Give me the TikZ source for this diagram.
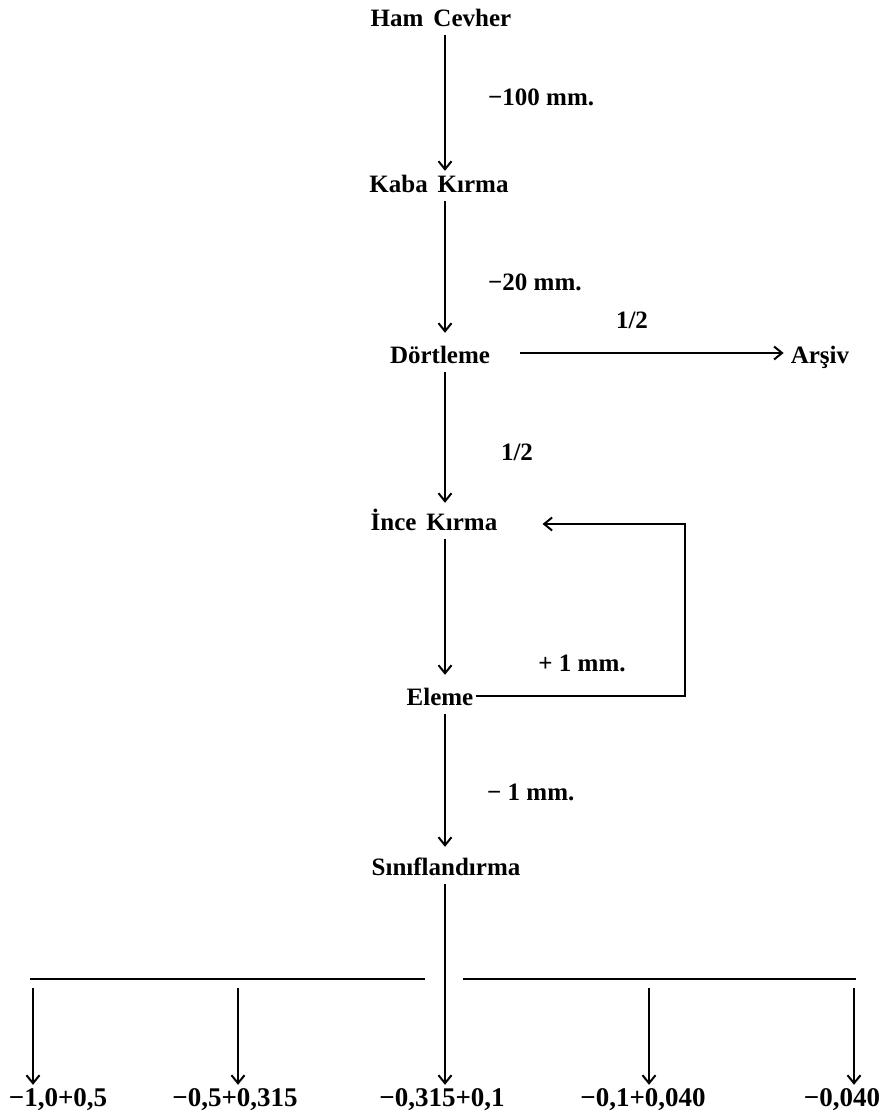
\documentclass[tikz,border=0pt]{standalone}
\usepackage{fontspec}
\setmainfont{Liberation Serif}
\usetikzlibrary{arrows.meta}
\begin{document}
\begin{tikzpicture}[x=1pt,y=-1pt,
  lbl/.style={font=\fontsize{25}{29}\selectfont\bfseries, inner sep=0pt},
  box/.style={lbl, text height=17pt, text depth=5pt, inner ysep=4pt, inner xsep=2pt},
  big/.style={box, font=\fontsize{27}{31}\selectfont\bfseries},
  arr/.style={line width=2.2pt, -{Straight Barb[length=8pt,width=13pt,line width=2pt]}},
  ln/.style={line width=2.2pt}]
\useasboundingbox (0,0) rectangle (881,1114);
\coordinate (col) at (445,0);
% main column
\node[box] (ham)   at (441,20)  {Ham\hspace{0.4em}Cevher};
\node[box] (kaba)  at (439,186) {Kaba\hspace{0.4em}Kırma};
\node[box] (dort)  at (440,357) {Dörtleme};
\node[box] (arsiv) at (820,357) {Arşiv};
\node[box] (ince)  at (434,524) {İnce\hspace{0.4em}Kırma};
\node[box] (eleme) at (440,699) {Eleme};
\node[box] (sinif) at (446,869) {Sınıflandırma};
% edge labels
\node[lbl, anchor=west] (m100) at (488,97)  {−100 mm.};
\node[lbl, anchor=west] (m20)  at (488,282) {−20 mm.};
\node[lbl] (h1) at (632,320) {1/2};
\node[lbl] (h2) at (517,452) {1/2};
\node[lbl] (p1) at (582,663) {+ 1 mm.};
\node[lbl, anchor=west] (m1) at (487,792) {− 1 mm.};
% bottom products
\node[big] (l1) at (58,1100)  {−1,0+0,5};
\node[big] (l2) at (235,1100) {−0,5+0,315};
\node[big] (l3) at (442,1100) {−0,315+0,1};
\node[big] (l4) at (643,1100) {−0,1+0,040};
\node[big] (l5) at (842,1100) {−0,040};
% vertical flow
\draw[arr] (ham.south -| col) -- (kaba.north -| col);
\draw[arr, shorten >=9pt] (kaba.south -| col) -- (dort.north -| col);
\draw[arr, shorten >=6pt] (dort.south -| col) -- (ince.north -| col);
\draw[arr, shorten >=9pt] (ince.south -| col) -- (eleme.north -| col);
\draw[arr, shorten >=7pt] (eleme.south -| col) -- (sinif.north -| col);
\draw[arr] (sinif.south -| col) -- (l3.north -| col);
% to archive
\draw[arr, shorten <=28pt, shorten >=5pt] ([yshift=4pt]dort.east) -- ([yshift=4pt]arsiv.west);
% recycle loop
\coordinate (rx) at (685,610);
\draw[arr, shorten >=43pt] ([yshift=3pt]eleme.east) -| (rx) |- (ince.east);
% distribution
\coordinate (hl1) at (30,979);
\coordinate (hl2) at (425,979);
\coordinate (hr1) at (463,979);
\coordinate (hr2) at (856,979);
\draw[ln] (hl1) -- (hl2);
\draw[ln] (hr1) -- (hr2);
\coordinate (b1) at (33,988);
\coordinate (b2) at (238,988);
\coordinate (b4) at (649,988);
\coordinate (b5) at (854,988);
\draw[arr] (b1) -- (b1 |- l1.north);
\draw[arr] (b2) -- (b2 |- l2.north);
\draw[arr] (b4) -- (b4 |- l4.north);
\draw[arr] (b5) -- (b5 |- l5.north);
\end{tikzpicture}
\end{document}
